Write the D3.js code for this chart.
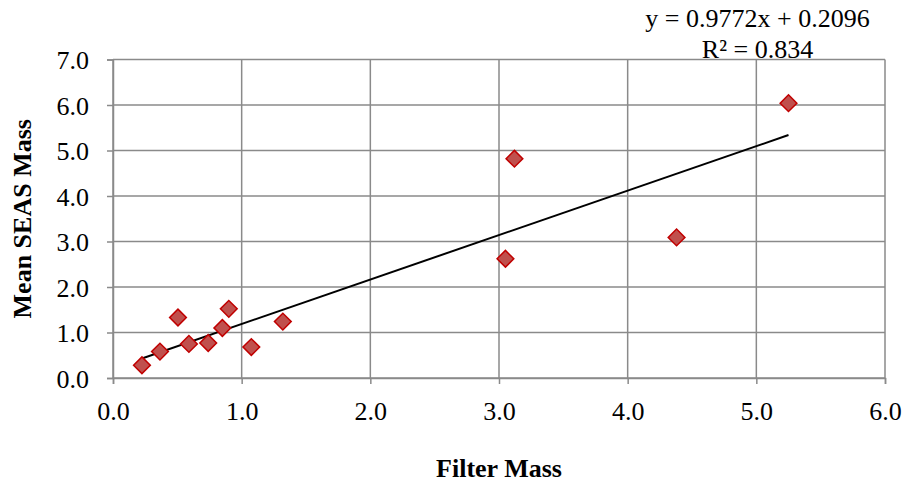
<html>
<head>
<script src="https://d3js.org/d3.v7.min.js"></script>
<style>
  body { margin: 0; background: #fff; }
  text { font-family: "Liberation Serif", "Times New Roman", serif; fill: #000; }
</style>
</head>
<body>
<div id="vis"></div>
<script>
// data
var filterMass = [0.225, 0.365, 0.505, 0.59, 0.74, 0.85, 0.9, 1.075, 1.32, 3.05, 3.12, 4.38, 5.25]
var seasMass   = [0.28, 0.58, 1.33, 0.75, 0.77, 1.1, 1.52, 0.68, 1.24, 2.62, 4.82, 3.09, 6.04]
var xTicks = [0, 1, 2, 3, 4, 5, 6]
var yTicks = [0, 1, 2, 3, 4, 5, 6, 7]
var slope = 0.9772
var intercept = 0.2096
var eqLines = ["y = 0.9772x + 0.2096", "R\u00b2 = 0.834"]

var W = 903, H = 482
var margin = {top: 59.5, right: 18, bottom: 104, left: 113}

var svg = d3.select("#vis").append("svg")
  .attr("width", W)
  .attr("height", H)

var x = d3.scaleLinear().domain([0, 6]).range([margin.left, W - margin.right])
var y = d3.scaleLinear().domain([0, 7]).range([H - margin.bottom, margin.top])

var grey = "#8a8a8a"

// gridlines
svg.append("g").selectAll("line").data(xTicks).join("line")
  .attr("x1", d => x(d)).attr("x2", d => x(d))
  .attr("y1", y(0)).attr("y2", y(7))
  .attr("stroke", grey).attr("stroke-width", 1.5)

svg.append("g").selectAll("line").data(yTicks).join("line")
  .attr("x1", x(0)).attr("x2", x(6))
  .attr("y1", d => y(d)).attr("y2", d => y(d))
  .attr("stroke", grey).attr("stroke-width", 1.5)

// axes
var xAxis = svg.append("g")
  .attr("transform", "translate(0," + y(0) + ")")
  .call(d3.axisBottom(x).tickValues(xTicks).tickFormat(d3.format(".1f")).tickSize(6).tickPadding(18))
var yAxis = svg.append("g")
  .attr("transform", "translate(" + x(0) + ",0)")
  .call(d3.axisLeft(y).tickValues(yTicks).tickFormat(d3.format(".1f")).tickSize(6).tickPadding(18))

;[xAxis, yAxis].forEach(function(a) {
  a.select(".domain").attr("stroke", grey).attr("stroke-width", 1.5)
  a.selectAll(".tick line").attr("stroke", grey).attr("stroke-width", 1.5)
  a.selectAll("text").style("font-family", '"Liberation Serif", serif').style("font-size", "26px").attr("fill", "#000")
})
yAxis.selectAll("text").attr("dy", "0.36em")

// trendline
var xMin = d3.min(filterMass), xMax = d3.max(filterMass)
svg.append("line")
  .attr("x1", x(xMin)).attr("y1", y(slope * xMin + intercept))
  .attr("x2", x(xMax)).attr("y2", y(slope * xMax + intercept))
  .attr("stroke", "#000").attr("stroke-width", 2)

// points
var pts = filterMass.map((v, i) => [v, seasMass[i]])
svg.append("g").selectAll("path").data(pts).join("path")
  .attr("d", d3.symbol().type(d3.symbolSquare).size(140))
  .attr("transform", d => "translate(" + x(d[0]) + "," + y(d[1]) + ") rotate(45)")
  .attr("fill", "#c0504d")
  .attr("stroke", "#c00000")
  .attr("stroke-width", 1.5)

// equation
svg.append("g").selectAll("text").data(eqLines).join("text")
  .attr("x", 757.5)
  .attr("y", (d, i) => 27 + i * 30.5)
  .attr("text-anchor", "middle")
  .style("font-size", "26px")
  .text(d => d)

// axis titles
svg.append("text")
  .attr("x", (x(0) + x(6)) / 2)
  .attr("y", 477)
  .attr("text-anchor", "middle")
  .style("font-size", "26px")
  .style("font-weight", "bold")
  .text("Filter Mass")

svg.append("text")
  .attr("transform", "translate(31," + (y(0) + y(7)) / 2 + ") rotate(-90)")
  .attr("text-anchor", "middle")
  .style("font-size", "26px")
  .style("font-weight", "bold")
  .text("Mean SEAS Mass")
</script>
</body>
</html>
